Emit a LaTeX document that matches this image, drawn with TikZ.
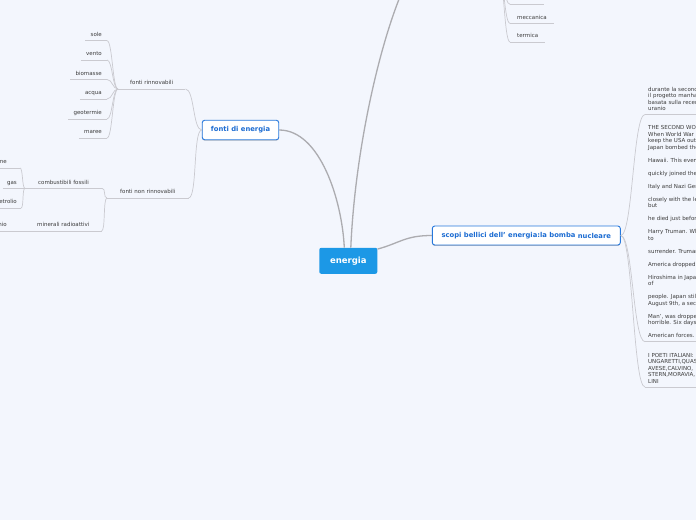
\documentclass[tikz,border=0pt]{standalone}
\usepackage{fontspec}
\setmainfont{DejaVu Sans}
\usetikzlibrary{shadows}
\definecolor{bg}{RGB}{243,246,253}
\definecolor{mainblue}{RGB}{28,152,230}
\definecolor{subblue}{RGB}{38,120,220}
\definecolor{subtext}{RGB}{28,108,210}
\definecolor{leaftext}{RGB}{60,60,60}
\definecolor{linegray}{RGB}{202,202,208}
\definecolor{maingray}{RGB}{172,172,176}
\tikzset{
  mainnode/.style={fill=mainblue, text=white, font=\bfseries\fontsize{8.5}{10}\selectfont, rounded corners=2pt, minimum width=58pt, minimum height=26pt, inner sep=0pt},
  subnode/.style={draw=subblue, line width=0.9pt, fill=white, text=subtext, font=\bfseries\fontsize{6.8}{8}\selectfont, rounded corners=2.5pt, inner sep=0pt, drop shadow={shadow xshift=0pt, shadow yshift=-0.9pt, opacity=0.25, fill=black}},
  leaf/.style={font=\fontsize{5.5}{6.5}\selectfont, text=leaftext, inner xsep=5pt, inner ysep=2.5pt, text height=4pt, text depth=1.5pt},
  para/.style={font=\fontsize{5.5}{6.5}\selectfont, text=leaftext, inner xsep=3pt, inner ysep=3.5pt, align=left, anchor=south west, minimum width=60pt},
  uline/.style={draw=linegray, line width=0.7pt},
  conn/.style={draw=linegray, line width=0.7pt},
  mainconn/.style={draw=maingray, line width=1.3pt},
}
\begin{document}
\begin{tikzpicture}[x=1pt,y=-1pt]
\useasboundingbox (0,0) rectangle (696,520);
\fill[bg] (0,0) rectangle (696,520);
\clip (0,0) rectangle (696,520);

% ---------- main nodes ----------
\node[mainnode] (energia) at (348.3,260.8) {energia};
\node[subnode, minimum width=76.5pt, minimum height=19.5pt] (fonti) at (240.5,130) {fonti di energia};
\node[subnode, minimum width=188pt, minimum height=19pt] (scopi) at (526.3,235.5) {scopi bellici dell' energia:la bomba \raisebox{-1.5pt}{nucleare}};
\coordinate (formeparent) at (405,-15);
\coordinate (topj) at (498,-30);

% main connectors
\draw[mainconn] ([xshift=-4pt]energia.north) .. controls (342,200) and (320,130) .. (fonti.east);
\draw[mainconn] ([xshift=2.5pt]energia.north) .. controls (355,150) and (380,40) .. (formeparent);
\draw[mainconn] ([yshift=-1.5pt]energia.north east) .. controls (400,243) and (405,235.5) .. (scopi.west);

% ---------- top-right children ----------
\node[leaf, anchor=south west, minimum width=34pt] (n0) at (510,4.3) {};
\node[leaf, anchor=south west, inner xsep=7pt] (mecc) at (510,23.3) {meccanica};
\node[leaf, anchor=south west, inner xsep=7pt] (term) at (510,42) {termica};
\foreach \n in {n0,mecc,term}{
  \draw[uline] (\n.south west) -- (\n.south east);
  \draw[conn] (topj) .. controls +(6,0) and +(-6,0) .. (\n.south west);
}

% ---------- fonti rinnovabili ----------
\node[leaf, anchor=south west, inner xsep=12pt] (fr) at (118,89) {fonti rinnovabili};
\draw[uline] (fr.south west) -- (fr.south east);
\draw[conn] (fonti.west) .. controls +(-9,0) and +(9,0) .. (fr.south east);
\node[leaf, anchor=south east] (sole) at (107,40.7) {sole};
\node[leaf, anchor=south east] (vento) at (107,60) {vento};
\node[leaf, anchor=south east] (biomasse) at (107,79.5) {biomasse};
\node[leaf, anchor=south east] (acqua) at (107,99) {acqua};
\node[leaf, anchor=south east] (geotermie) at (107,119) {geotermie};
\node[leaf, anchor=south east] (maree) at (107,138) {maree};
\foreach \n in {sole,vento,biomasse,acqua,geotermie,maree}{
  \draw[uline] (\n.south west) -- (\n.south east);
  \draw[conn] (fr.south west) .. controls +(-5.5,0) and +(5.5,0) .. (\n.south east);
}

% ---------- fonti non rinnovabili ----------
\node[leaf, anchor=south west, inner xsep=13pt] (fnr) at (107,198) {fonti non rinnovabili};
\draw[uline] (fnr.south west) -- (fnr.south east);
\draw[conn] (fonti.west) .. controls +(-9,0) and +(9,0) .. (fnr.south east);

\node[leaf, anchor=south west, inner xsep=13pt] (cf) at (25,188.3) {combustibili fossili};
\node[leaf, anchor=south west, inner xsep=12pt] (mr) at (25,231) {minerali radioattivi};
\foreach \n in {cf,mr}{
  \draw[uline] (\n.south west) -- (\n.south east);
  \draw[conn] (fnr.south west) .. controls +(-4,0) and +(4,0) .. (\n.south east);
}

\node[leaf, anchor=south east, inner xsep=13pt] (carbone) at (20,168) {carbone};
\node[leaf, anchor=south east, inner xsep=4pt] (gas) at (21,188.3) {gas};
\node[leaf, anchor=south east, inner xsep=4pt] (petrolio) at (21,208) {petrolio};
\foreach \n in {carbone,gas,petrolio}{
  \draw[uline] (\n.south west) -- (\n.south east);
  \draw[conn] (cf.south west) .. controls +(-3,0) and +(3,0) .. (\n.south east);
}
\node[leaf, anchor=south east, inner xsep=14pt] (uranio) at (21,231) {uranio};
\draw[uline] (uranio.south west) -- (uranio.south east);
\draw[conn] (mr.south west) -- (uranio.south east);

% ---------- scopi bellici children ----------
\node[para] (c1) at (645,114.5) {durante la seconda\\il progetto manhattan\\basata sulla recente\\uranio};
\node[para] (c2) at (645,341.7) {THE SECOND WORLD\\When World War II\\keep the USA out\\Japan bombed the\\[6.5pt]Hawaii. This event\\[6.5pt]quickly joined the\\[6.5pt]Italy and Nazi Germany\\[6.5pt]closely with the leaders\\but\\[6.5pt]he died just before\\[6.5pt]Harry Truman. When\\to\\[6.5pt]surrender. Truman\\[6.5pt]America dropped\\[6.5pt]Hiroshima in Japan\\of\\[6.5pt]people. Japan still\\August 9th, a second\\[6.5pt]Man', was dropped\\horrible. Six days\\[6.5pt]American forces.};
\node[para] (c3) at (645,387) {I POETI ITALIANI:\\UNGARETTI,QUASIMODO,P\\AVESE,CALVINO,\\STERN,MORAVIA,\\LINI};
\foreach \n in {c1,c2,c3}{
  \draw[uline] (\n.south west) -- (\n.south east);
  \draw[conn] (scopi.east) .. controls +(12,0) and +(-12,0) .. (\n.south west);
}
\end{tikzpicture}
\end{document}
